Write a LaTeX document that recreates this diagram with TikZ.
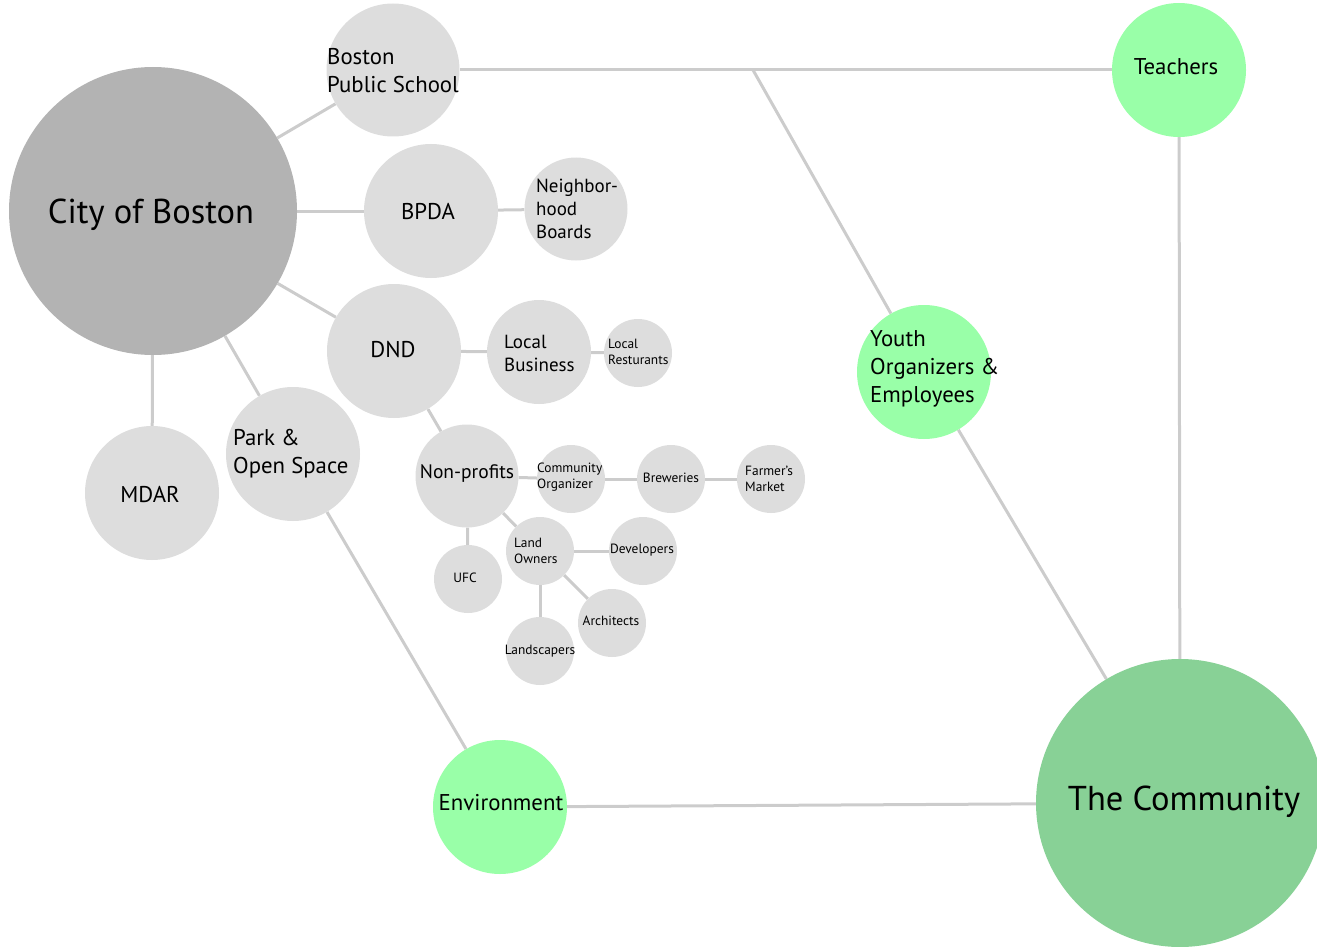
\documentclass[tikz,border=0pt]{standalone}
\usepackage{fontspec}
\setmainfont{PT Sans}
\usetikzlibrary{backgrounds}
\definecolor{cityg}{HTML}{B3B3B3}
\definecolor{lgray}{HTML}{DDDDDD}
\definecolor{lgreen}{HTML}{99FFA8}
\definecolor{dgreen}{HTML}{88D196}
\definecolor{edgec}{HTML}{CCCCCC}
\tikzset{
  bub/.style={circle, inner sep=0pt, minimum size=#1, draw=none},
  gb/.style={bub=#1, fill=lgray},
  gr/.style={bub=#1, fill=lgreen},
  link/.style={draw=edgec, line width=3pt},
  txt/.style={inner sep=0pt, align=left, text=black},
  bigt/.style={txt, font=\fontsize{34.5}{40}\selectfont},
  midt/.style={txt, font=\fontsize{22.8}{28}\selectfont},
  smt/.style={txt, font=\fontsize{19}{23}\selectfont},
  tint/.style={txt, font=\fontsize{13.4}{16}\selectfont},
}
\begin{document}
\begin{tikzpicture}[x=1pt,y=-1pt]
\useasboundingbox (0,0) rectangle (1317,947);
% circles
\node[bub=288, fill=cityg] (city) at (153,211) {};
\node[gb=133] (bps) at (393,70) {};
\node[gb=134] (bpda) at (431,211) {};
\node[gb=103] (nb) at (576,209) {};
\node[gb=134] (dnd) at (394,351) {};
\node[gb=104] (lb) at (539,352) {};
\node[gb=68] (lr) at (638,353) {};
\node[gb=103] (np) at (467,476) {};
\node[gb=68] (co) at (571,479) {};
\node[gb=68] (brew) at (671,479) {};
\node[gb=68] (fm) at (771,479) {};
\node[gb=68] (lo) at (540,551) {};
\node[gb=68] (dev) at (643,551) {};
\node[gb=68] (ufc) at (468,579) {};
\node[gb=68] (arch) at (612,623) {};
\node[gb=68] (land) at (540,651) {};
\node[gb=134] (mdar) at (152,493) {};
\node[gb=134] (park) at (293,454) {};
\node[gr=134] (env) at (500,807) {};
\node[gr=134] (teach) at (1179,70) {};
\node[gr=134] (youth) at (924,372) {};
\node[bub=288, fill=dgreen] (comm) at (1180,803) {};
\coordinate (split) at (753,70);
% connectors
\begin{scope}[on background layer]
\draw[link] (city) -- (bps);
\draw[link] (city) -- (bpda);
\draw[link] (city) -- (dnd);
\draw[link] (city) -- (mdar);
\draw[link] (city) -- (park);
\draw[link] (bpda) -- (nb);
\draw[link] (dnd) -- (lb);
\draw[link] (lb) -- (lr);
\draw[link] (dnd) -- (np);
\draw[link] (np) -- (co);
\draw[link] (co) -- (brew);
\draw[link] (brew) -- (fm);
\draw[link] (np) -- (ufc);
\draw[link] (np) -- (lo);
\draw[link] (lo) -- (dev);
\draw[link] (lo) -- (land);
\draw[link] (lo) -- (arch);
\draw[link] (bps) -- (teach);
\draw[link] (split) -- (youth);
\draw[link] (youth) -- (comm);
\draw[link] (teach) -- (comm);
\draw[link] (park) -- (env);
\draw[link] (env) -- (comm);
\end{scope}
% labels
\node[bigt] (t-city) at (151,215) {City of Boston};
\node[bigt] (t-comm) at (1184,802) {The Community};
\node[midt, anchor=west] (t-bps) at (327,71) {Boston\\Public School};
\node[midt] (t-bpda) at (428,211) {BPDA};
\node[smt, anchor=west] (t-nb) at (536,209) {Neighbor-\\hood\\Boards};
\node[midt] (t-dnd) at (393,350) {DND};
\node[smt, anchor=west] (t-lb) at (504,353) {Local\\Business};
\node[tint, anchor=west] (t-lr) at (608,352) {Local\\Resturants};
\node[font=\fontsize{19.5}{23}\selectfont, inner sep=0pt] (t-np) at (467,474) {Non-profits};
\node[tint, anchor=west] (t-co) at (537,477) {Community\\Organizer};
\node[tint] (t-brew) at (671,478) {Breweries};
\node[tint, anchor=west] (t-fm) at (745,479) {Farmer’s\\Market};
\node[tint, anchor=west] (t-lo) at (514,551) {Land\\Owners};
\node[tint] (t-dev) at (642,550) {Developers};
\node[tint] (t-ufc) at (465,578) {UFC};
\node[tint] (t-arch) at (611,621) {Architects};
\node[tint] (t-land) at (540,651) {Landscapers};
\node[midt] (t-mdar) at (150,494) {MDAR};
\node[midt, anchor=west] (t-park) at (233,454) {Park \&\\Open Space};
\node[midt] (t-env) at (501,803) {Environment};
\node[midt] (t-teach) at (1176,67) {Teachers};
\node[midt, anchor=west] (t-youth) at (870,369) {Youth\\Organizers \&\\Employees};
\end{tikzpicture}
\end{document}
